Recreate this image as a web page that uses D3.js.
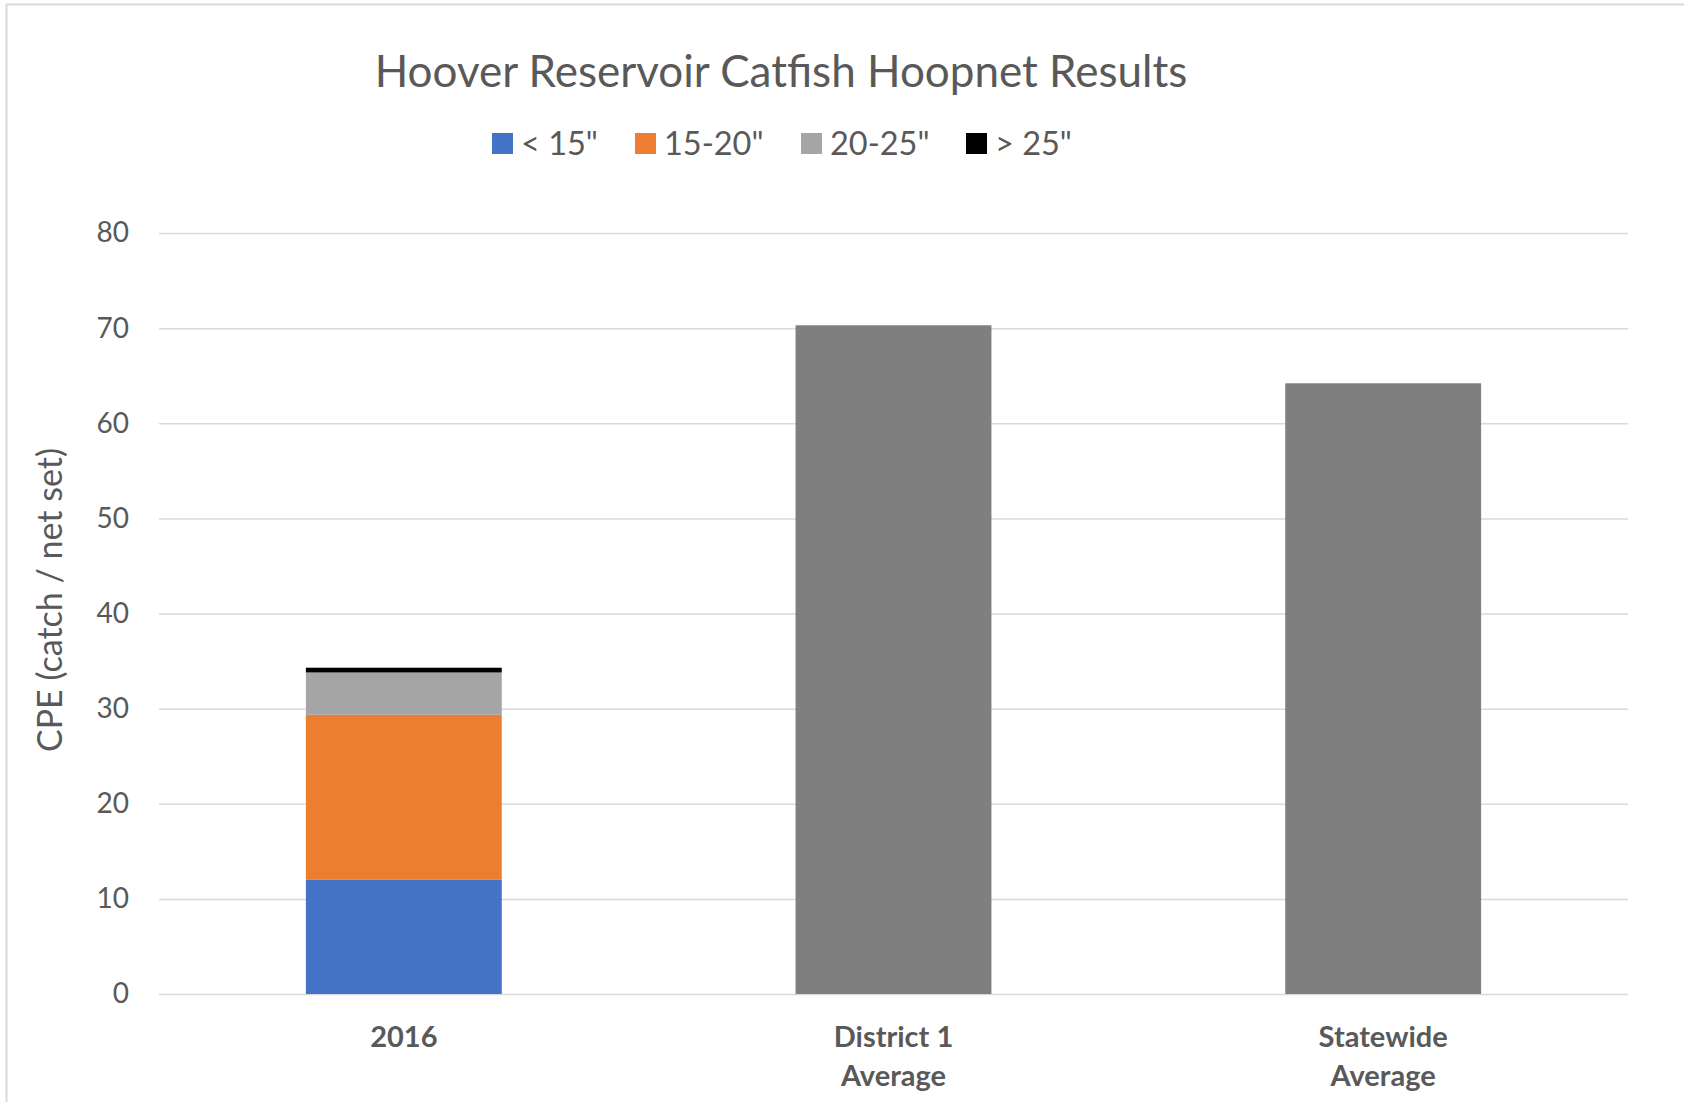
<!DOCTYPE html>
<html>
<head>
<meta charset="utf-8">
<script src="https://cdn.jsdelivr.net/npm/d3@7"></script>
<style>
  html, body { margin: 0; padding: 0; background: #ffffff; }
  svg { display: block; }
</style>
</head>
<body>
<svg id="chart" width="1684" height="1102"></svg>
<script>
// ---- data ----
const titleText = "Hoover Reservoir Catfish Hoopnet Results";
const categories = ["2016", "District 1\nAverage", "Statewide\nAverage"];
const seriesNames = ["< 15\"", "15-20\"", "20-25\"", "> 25\""];
const seriesColors = ["#4472c4", "#ed7d31", "#a5a5a5", "#000000"];
// stacked size-class values for 2016
const lt15 = [12.0, 0, 0];
const s15to20 = [17.35, 0, 0];
const s20to25 = [4.45, 0, 0];
const gt25 = [0.5, 0, 0];
// comparison averages
const averages = [0, 70.3, 64.2];
const averageColor = "#7f7f7f";
const yTicks = [0, 10, 20, 30, 40, 50, 60, 70, 80];
const yAxisTitle = "CPE (catch / net set)";

// ---- layout ----
const W = 1684, H = 1102;
const plot = { left: 159, right: 1628, top: 233, bottom: 994 };
const textColor = "#595959";
const gridColor = "#d9d9d9";
const FONT = "Lato, 'Open Sans', sans-serif";

const svg = d3.select("#chart");
svg.append("rect").attr("width", W).attr("height", H).attr("fill", "#fff");

// chart-area border (only left & top visible)
svg.append("rect")
  .attr("x", 6.5).attr("y", 4.5)
  .attr("width", W + 20).attr("height", H + 20)
  .attr("fill", "none").attr("stroke", gridColor).attr("stroke-width", 2);

const x = d3.scaleBand()
  .domain(categories)
  .range([plot.left, plot.right])
  .paddingInner(0.6)
  .paddingOuter(0.3);

const y = d3.scaleLinear().domain([0, 80]).range([plot.bottom, plot.top]);

// gridlines + tick labels via axis
const yAxis = d3.axisLeft(y)
  .tickValues(yTicks)
  .tickSize(-(plot.right - plot.left))
  .tickPadding(30)
  .tickFormat(d3.format("d"));

const gy = svg.append("g")
  .attr("transform", `translate(${plot.left},0)`)
  .call(yAxis);
gy.select(".domain").remove();
gy.selectAll(".tick line").attr("stroke", gridColor).attr("stroke-width", 1.5);
gy.selectAll(".tick text")
  .attr("fill", textColor)
  .style("font-family", FONT)
  .style("font-size", "28px");

// stacked data
const stackRows = categories.map((c, i) => ({
  cat: c, s0: lt15[i], s1: s15to20[i], s2: s20to25[i], s3: gt25[i]
}));
const stack = d3.stack().keys(["s0", "s1", "s2", "s3"]);
const layers = stack(stackRows);

svg.append("g").selectAll("g")
  .data(layers)
  .join("g")
  .attr("fill", (d, i) => seriesColors[i])
  .selectAll("rect")
  .data(d => d.filter(p => p[1] - p[0] > 0))
  .join("rect")
  .attr("x", d => x(d.data.cat))
  .attr("width", x.bandwidth())
  .attr("y", d => y(d[1]))
  .attr("height", d => y(d[0]) - y(d[1]));

// average bars
svg.append("g").selectAll("rect")
  .data(categories.map((c, i) => ({ cat: c, v: averages[i] })).filter(d => d.v > 0))
  .join("rect")
  .attr("x", d => x(d.cat))
  .attr("width", x.bandwidth())
  .attr("y", d => y(d.v))
  .attr("height", d => y(0) - y(d.v))
  .attr("fill", averageColor);

// category labels
const catG = svg.append("g");
categories.forEach(c => {
  const lines = c.split("\n");
  const t = catG.append("text")
    .attr("x", x(c) + x.bandwidth() / 2)
    .attr("y", 1047)
    .attr("text-anchor", "middle")
    .attr("fill", textColor)
    .style("font-family", FONT)
    .style("font-weight", "700")
    .style("font-size", "29px");
  lines.forEach((ln, i) => {
    t.append("tspan")
      .attr("x", x(c) + x.bandwidth() / 2)
      .attr("dy", i === 0 ? 0 : 39)
      .text(ln);
  });
});

// title
svg.append("text")
  .attr("x", 781).attr("y", 87)
  .attr("text-anchor", "middle")
  .attr("fill", textColor)
  .style("font-family", FONT)
  .style("font-weight", "400")
  .style("font-size", "44px")
  .text(titleText);

// y axis title
svg.append("text")
  .attr("transform", `translate(62,600) rotate(-90)`)
  .attr("text-anchor", "middle")
  .attr("fill", textColor)
  .style("font-family", FONT)
  .style("font-size", "34px")
  .text(yAxisTitle);

// legend
const legendX = [492, 635, 801, 966];
const lg = svg.append("g");
seriesNames.forEach((name, i) => {
  const g = lg.append("g").attr("transform", `translate(${legendX[i]},0)`);
  g.append("rect")
    .attr("x", 0).attr("y", 133)
    .attr("width", 21).attr("height", 21)
    .attr("fill", seriesColors[i]);
  g.append("text")
    .attr("x", 29).attr("y", 155)
    .attr("fill", textColor)
    .style("font-family", FONT)
    .style("font-size", "32.5px")
    .text(name);
});
</script>
</body>
</html>
